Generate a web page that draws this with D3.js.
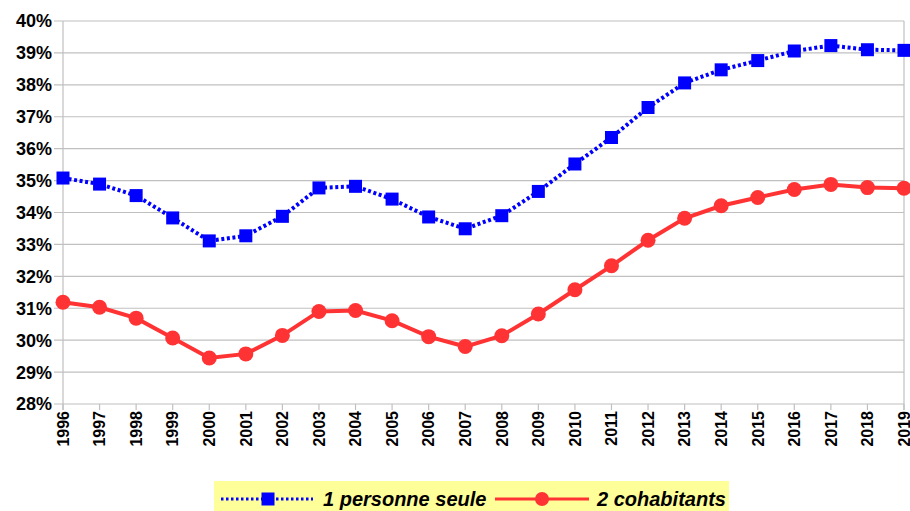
<!DOCTYPE html>
<html><head><meta charset="utf-8">
<script src="https://cdn.jsdelivr.net/npm/d3@7/dist/d3.min.js"></script>
<style>body{margin:0;background:#fff;} svg{display:block;}</style>
</head><body>
<svg id="chart" width="910" height="511"></svg>
<script>
const years = ["1996","1997","1998","1999","2000","2001","2002","2003","2004","2005","2006","2007","2008","2009","2010","2011","2012","2013","2014","2015","2016","2017","2018","2019"];
const seule = [35.08,34.89,34.53,33.83,33.11,33.27,33.88,34.77,34.82,34.42,33.86,33.49,33.90,34.66,35.52,36.35,37.29,38.06,38.47,38.76,39.06,39.23,39.10,39.08];
const cohab = [31.19,31.03,30.69,30.07,29.44,29.57,30.15,30.90,30.93,30.61,30.11,29.80,30.14,30.82,31.58,32.33,33.13,33.82,34.21,34.47,34.72,34.88,34.78,34.76];
const yTicks = [28,29,30,31,32,33,34,35,36,37,38,39,40];
const legendLabels = ["1 personne seule","2 cohabitants"];

const svg = d3.select("#chart");
const L = 63, R = 904, T = 21, B = 404;
const x = d3.scalePoint().domain(years).range([L, R]);
const y = d3.scaleLinear().domain([28, 40]).range([B, T]);
const grid = "#c0c0c0";

// grid lines
svg.append("g").selectAll("line").data(yTicks).join("line")
  .attr("x1", L - 9).attr("x2", R).attr("y1", d => y(d)).attr("y2", d => y(d))
  .attr("stroke", grid).attr("stroke-width", 1.2);
// frame
svg.append("line").attr("x1", L).attr("x2", L).attr("y1", T).attr("y2", B + 6).attr("stroke", grid).attr("stroke-width", 1.2);
svg.append("line").attr("x1", R).attr("x2", R).attr("y1", T).attr("y2", B + 6).attr("stroke", grid).attr("stroke-width", 1.2);
// x ticks
svg.append("g").selectAll("line").data(years).join("line")
  .attr("x1", d => x(d)).attr("x2", d => x(d)).attr("y1", B).attr("y2", B + 6)
  .attr("stroke", grid).attr("stroke-width", 1.2);

// y labels
svg.append("g").selectAll("text").data(yTicks).join("text")
  .attr("x", 52).attr("y", d => y(d)).attr("dy", "0.36em")
  .attr("text-anchor", "end")
  .style("font", "bold 18px 'Liberation Sans', Arial, sans-serif").attr("fill", "#000")
  .text(d => d + "%");
// x labels
svg.append("g").selectAll("text").data(years).join("text")
  .attr("transform", d => `translate(${x(d)},${B + 7}) rotate(-90)`)
  .attr("dy", "0.36em").attr("text-anchor", "end")
  .style("font", "bold 16px 'Liberation Sans', Arial, sans-serif").attr("fill", "#000")
  .text(d => d);

const line = d3.line().x((d, i) => x(years[i])).y(d => y(d));
// series 1
svg.append("path").datum(seule).attr("d", line).attr("fill", "none")
  .attr("stroke", "#0000ff").attr("stroke-width", 4).attr("stroke-dasharray", "3,2.6");
svg.append("g").selectAll("rect").data(seule).join("rect")
  .attr("x", (d, i) => x(years[i]) - 6.5).attr("y", d => y(d) - 6.5)
  .attr("width", 13).attr("height", 13).attr("fill", "#0000ff");
// series 2
svg.append("path").datum(cohab).attr("d", line).attr("fill", "none")
  .attr("stroke", "#ff3333").attr("stroke-width", 4);
svg.append("g").selectAll("circle").data(cohab).join("circle")
  .attr("cx", (d, i) => x(years[i])).attr("cy", d => y(d)).attr("r", 7.5).attr("fill", "#ff3333");

// legend
const lg = svg.append("g");
lg.append("rect").attr("x", 214).attr("y", 481).attr("width", 515).attr("height", 30).attr("fill", "#ffff99");
const ly = 499;
lg.append("line").attr("x1", 221).attr("x2", 313).attr("y1", ly).attr("y2", ly)
  .attr("stroke", "#0000ff").attr("stroke-width", 3).attr("stroke-dasharray", "2.5,2.5");
lg.append("rect").attr("x", 268 - 6.5).attr("y", ly - 6.5).attr("width", 13).attr("height", 13).attr("fill", "#0000ff");
lg.append("text").attr("x", 323).attr("y", ly).attr("dy", "0.36em")
  .style("font", "italic bold 20px 'Liberation Sans', Arial, sans-serif").text(legendLabels[0]);
lg.append("line").attr("x1", 495).attr("x2", 589).attr("y1", ly).attr("y2", ly)
  .attr("stroke", "#ff3333").attr("stroke-width", 3);
lg.append("circle").attr("cx", 542).attr("cy", ly).attr("r", 7).attr("fill", "#ff3333");
lg.append("text").attr("x", 597).attr("y", ly).attr("dy", "0.36em")
  .style("font", "italic bold 20px 'Liberation Sans', Arial, sans-serif").text(legendLabels[1]);
</script>
</body></html>
